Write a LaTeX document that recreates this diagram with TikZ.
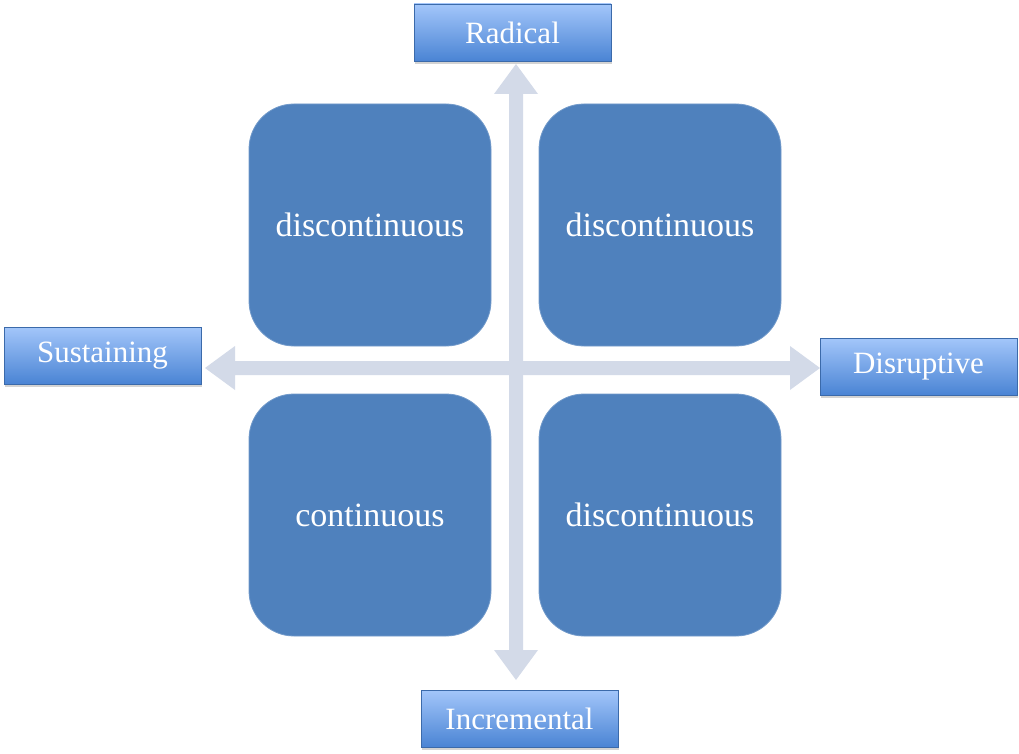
\documentclass[tikz,border=0pt]{standalone}
\usepackage{fontspec}
\setmainfont{Liberation Serif}
\usetikzlibrary{shadows}
\definecolor{quad}{HTML}{4F81BD}
\definecolor{arr}{HTML}{D3DAE8}
\definecolor{lbtop}{HTML}{A3C6FA}
\definecolor{lbbot}{HTML}{4A84D4}
\tikzset{
  quadbox/.style={fill=quad, draw=quad!80!white, line width=0.8pt, rounded corners=45pt, minimum width=242pt, minimum height=242pt, text=white, font=\fontsize{34}{38}\selectfont, inner sep=0pt},
  labelbox/.style={top color=lbtop, bottom color=lbbot, draw=lbbot!80!black, line width=0.5pt, minimum width=197pt, minimum height=57pt, text=white, font=\fontsize{31}{34}\selectfont, inner sep=0pt, drop shadow={shadow xshift=1pt, shadow yshift=-3pt, opacity=0.35}},
  arrowshape/.style={fill=arr, draw=none}
}
\begin{document}
\begin{tikzpicture}[x=1pt,y=-1pt]
\useasboundingbox (0,0) rectangle (1019,754);
% arrows
\coordinate (vt) at (516,64);
\coordinate (vb) at (516,680);
\coordinate (hl) at (205,368);
\coordinate (hr) at (820,368);
\fill[arrowshape] (vt) -- ++(22,30) -- ++(-15,0) -- (523,650) -- ++(15,0) -- (vb) -- ++(-22,-30) -- ++(15,0) -- (509,94) -- ++(-15,0) -- cycle;
\fill[arrowshape] (hl) -- ++(30,-22) -- ++(0,15) -- (790,361) -- ++(0,-15) -- (hr) -- ++(-30,22) -- ++(0,-15) -- (235,375) -- ++(0,15) -- cycle;
% quadrants
\node[quadbox] (q1) at (370,225) {discontinuous};
\node[quadbox] (q2) at (660,225) {discontinuous};
\node[quadbox] (q3) at (370,515) {continuous};
\node[quadbox] (q4) at (660,515) {discontinuous};
% labels
\node[labelbox] (rad) at (512.5,32.5) {Radical};
\node[labelbox] (sus) at (102.5,355.5) {Sustaining};
\node[labelbox] (dis) at (918.5,366.5) {Disruptive};
\node[labelbox] (inc) at (519.5,718.5) {Incremental};
\end{tikzpicture}
\end{document}
